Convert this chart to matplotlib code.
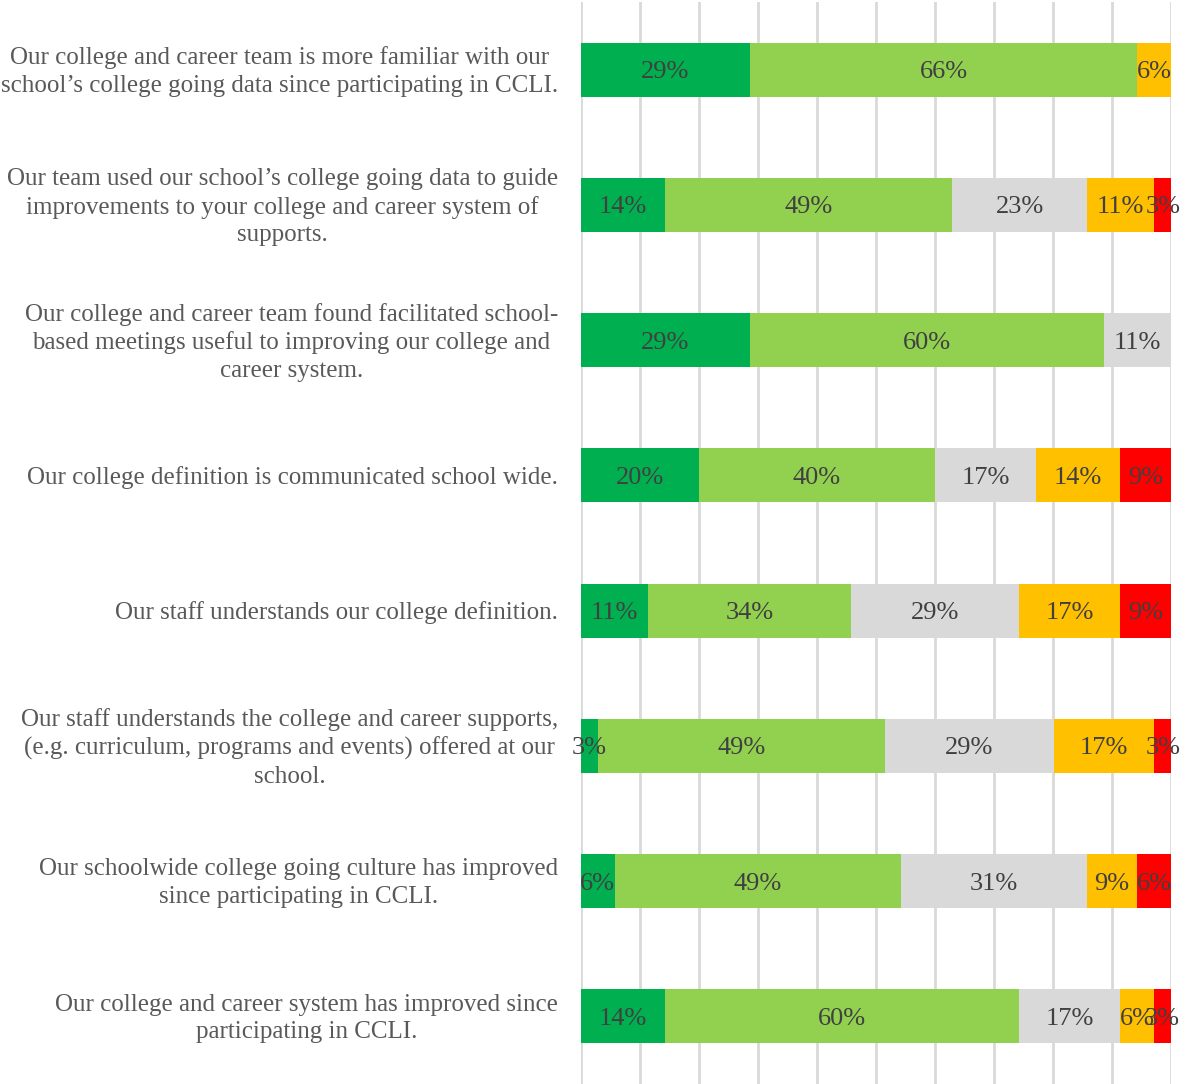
import matplotlib
matplotlib.use("Agg")
import matplotlib.pyplot as plt
import matplotlib.transforms as mtransforms
import numpy as np

categories = [
    "Our college and career team is more familiar with our\nschool\u2019s college going data since participating in CCLI.",
    "Our team used our school\u2019s college going data to guide\nimprovements to your college and career system of\nsupports.",
    "Our college and career team found facilitated school-\nbased meetings useful to improving our college and\ncareer system.",
    "Our college definition is communicated school wide.",
    "Our staff understands our college definition.",
    "Our staff understands the college and career supports,\n(e.g. curriculum, programs and events) offered at our\nschool.",
    "Our schoolwide college going culture has improved\nsince participating in CCLI.",
    "Our college and career system has improved since\nparticipating in CCLI.",
]

# percentages per response level (strongly agree, agree, neutral, disagree, strongly disagree)
strongly_agree    = [28.6, 14.3, 28.6, 20.0, 11.4,  2.9,  5.7, 14.3]
agree             = [65.7, 48.6, 60.0, 40.0, 34.3, 48.6, 48.6, 60.0]
neutral           = [ 0.0, 22.9, 11.4, 17.1, 28.6, 28.6, 31.4, 17.1]
disagree          = [ 5.7, 11.4,  0.0, 14.3, 17.1, 17.1,  8.6,  5.7]
strongly_disagree = [ 0.0,  2.9,  0.0,  8.6,  8.6,  2.9,  5.7,  2.9]

series = [strongly_agree, agree, neutral, disagree, strongly_disagree]
colors = ["#00B050", "#92D050", "#D9D9D9", "#FFC000", "#FF0000"]

FONT = "Liberation Serif"

W, H = 1188, 1084
fig = plt.figure(figsize=(W / 100, H / 100), dpi=100)
ax = fig.add_axes([581 / W, 0 / H, (1171 - 581) / W, (1084 - 2) / H])

n = len(categories)
y = np.arange(n)
left = np.zeros(n)
for vals, col in zip(series, colors):
    v = np.array(vals) / 100.0
    ax.barh(y, v, left=left, height=0.4, color=col, zorder=2)
    for yi, (l, w) in enumerate(zip(left, v)):
        if w > 0:
            ax.text(l + w / 2, yi, f"{w*100:.0f}%", ha="center",
                    va="center_baseline",
                    fontsize=19, color="#404040", family=FONT,
                    zorder=3, clip_on=False)
    left += v

ax.set_xlim(0, 1)
ax.set_ylim(n - 0.5, -0.5)
ax.set_xticks(np.arange(0, 1.01, 0.1))
ax.xaxis.grid(True, color="#D9D9D9", linewidth=2, zorder=0)
ax.tick_params(axis="both", length=0, labelbottom=False, labelleft=False)
for s in ax.spines.values():
    s.set_visible(False)
ax.set_yticks([])

shift = mtransforms.ScaledTranslation(0, -2 / 100, fig.dpi_scale_trans)
for yi, cat in enumerate(categories):
    ax.text(-0.039, yi, cat, transform=ax.get_yaxis_transform() + shift,
            ha="right", va="center", multialignment="center", fontsize=18,
            color="#595959", family=FONT, linespacing=1.32)

fig.savefig("out.png", dpi=100)
